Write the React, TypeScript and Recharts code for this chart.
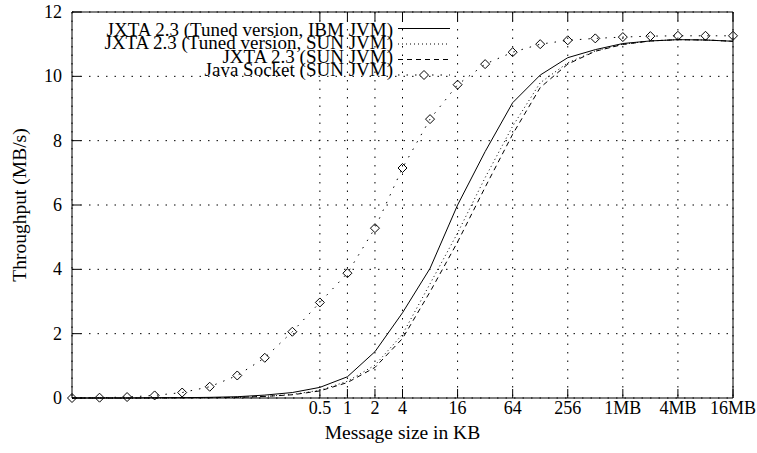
import { LineChart, Line, XAxis, YAxis, CartesianGrid, Legend } from "recharts";

// message sizes in bytes, one point per power of two
const sizes = [
  1, 2, 4, 8, 16, 32, 64, 128, 256, 512, 1024, 2048, 4096, 8192, 16384, 32768,
  65536, 131072, 262144, 524288, 1048576, 2097152, 4194304, 8388608, 16777216,
];

// throughput in MB/s
const tunedIbm = [
  0, 0, 0, 0.01, 0.01, 0.02, 0.04, 0.09, 0.17, 0.33, 0.66, 1.44, 2.65, 4.03,
  6.0, 7.66, 9.18, 10.04, 10.58, 10.83, 11.02, 11.1, 11.14, 11.13, 11.09,
];
const tunedSun = [
  0, 0, 0, 0, 0.01, 0.01, 0.02, 0.05, 0.11, 0.24, 0.52, 1.02, 1.98, 3.55, 5.13,
  6.85, 8.45, 9.8, 10.42, 10.79, 11.0, 11.1, 11.14, 11.13, 11.09,
];
const jxtaSun = [
  0, 0, 0, 0, 0.01, 0.01, 0.02, 0.05, 0.1, 0.22, 0.48, 0.95, 1.85, 3.3, 4.85,
  6.55, 8.2, 9.65, 10.38, 10.78, 10.99, 11.1, 11.14, 11.13, 11.09,
];
const javaSocket = [
  0, 0.01, 0.03, 0.08, 0.17, 0.35, 0.7, 1.25, 2.06, 2.97, 3.88, 5.28, 7.15,
  8.67, 9.74, 10.38, 10.75, 11.0, 11.12, 11.18, 11.22, 11.25, 11.26, 11.26,
  11.26,
];

const xTicks = [512, 1024, 2048, 4096, 16384, 65536, 262144, 1048576, 4194304, 16777216];
const xTickLabels = ["0.5", "1", "2", "4", "16", "64", "256", "1MB", "4MB", "16MB"];
const yTicks = [0, 2, 4, 6, 8, 10, 12];

const series = [
  { key: "tunedIbm", name: "JXTA 2.3 (Tuned version, IBM JVM)", dash: undefined, marker: false },
  { key: "tunedSun", name: "JXTA 2.3 (Tuned version, SUN JVM)", dash: "1 3", marker: false },
  { key: "jxtaSun", name: "JXTA 2.3 (SUN JVM)", dash: "5 4", marker: false },
  { key: "javaSocket", name: "Java Socket (SUN JVM)", dash: "1.5 7", marker: true },
];

const data = sizes.map((size, i) => ({
  size,
  tunedIbm: tunedIbm[i],
  tunedSun: tunedSun[i],
  jxtaSun: jxtaSun[i],
  javaSocket: javaSocket[i],
}));

const FONT = "'Liberation Serif', 'Times New Roman', serif";
const FS = 18;
const TITLE_FS = 19.5;
const TICK = 9;

function diamondPath(cx: number, cy: number, r: number) {
  return `M${cx},${cy - r}L${cx + r},${cy}L${cx},${cy + r}L${cx - r},${cy}Z`;
}

function Diamond(props: any) {
  const { cx, cy, index } = props;
  if (cx == null || cy == null) return <g key={index} />;
  return <path key={index} d={diamondPath(cx, cy, 4.5)} fill="none" stroke="#000" strokeWidth={1} />;
}

function BottomTick(props: any) {
  const { x, y, payload } = props;
  const label = xTickLabels[xTicks.indexOf(payload.value)];
  return (
    <g>
      <line x1={x} x2={x} y1={y} y2={y - TICK} stroke="#000" />
      <text x={x} y={y + 16} textAnchor="middle" fontFamily={FONT} fontSize={FS} fill="#000">
        {label}
      </text>
    </g>
  );
}

function TopTick(props: any) {
  const { x, y } = props;
  return <line x1={x} x2={x} y1={y} y2={y + TICK} stroke="#000" />;
}

function LeftTick(props: any) {
  const { x, y, payload } = props;
  return (
    <g>
      <line x1={x} x2={x + TICK} y1={y} y2={y} stroke="#000" />
      <text x={x - 10} y={y + 6} textAnchor="end" fontFamily={FONT} fontSize={FS} fill="#000">
        {payload.value}
      </text>
    </g>
  );
}

function RightTick(props: any) {
  const { x, y } = props;
  return <line x1={x - TICK} x2={x} y1={y} y2={y} stroke="#000" />;
}

function XTitle(props: any) {
  const { viewBox } = props;
  return (
    <text
      x={viewBox.x + viewBox.width / 2}
      y={viewBox.y + 41}
      textAnchor="middle"
      fontFamily={FONT}
      fontSize={TITLE_FS}
      fill="#000"
    >
      Message size in KB
    </text>
  );
}

function YTitle(props: any) {
  const { viewBox } = props;
  const cx = viewBox.x + 20;
  const cy = viewBox.y + viewBox.height / 2;
  return (
    <text
      x={cx}
      y={cy}
      dy={6}
      transform={`rotate(-90, ${cx}, ${cy})`}
      textAnchor="middle"
      fontFamily={FONT}
      fontSize={TITLE_FS}
      fill="#000"
    >
      Throughput (MB/s)
    </text>
  );
}

function KeyBox() {
  const textRight = 393;
  const x1 = 398;
  const x2 = 450;
  return (
    <svg width={460} height={90} style={{ display: "block" }}>
      {series.map((s, i) => {
        const baseline = 35.5 + i * 13.6;
        const cy = 28.5 + i * 15.5;
        return (
          <g key={s.key}>
            <text x={textRight} y={baseline} textAnchor="end" fontFamily={FONT} fontSize={19} fill="#000">
              {s.name}
            </text>
            <line x1={x1} x2={x2} y1={cy} y2={cy} stroke="#000" strokeDasharray={s.dash} />
            {s.marker && (
              <path d={diamondPath((x1 + x2) / 2, cy, 4.5)} fill="#fff" stroke="#000" />
            )}
          </g>
        );
      })}
    </svg>
  );
}

export default function App() {
  return (
    <div
      style={{
        position: "absolute",
        left: 0,
        top: 0,
        width: 757,
        height: 453,
        background: "#fff",
        fontFamily: FONT,
      }}
    >
      <LineChart
        width={757}
        height={453}
        data={data}
        margin={{ top: 0, right: 0, bottom: 0, left: 0 }}
        style={{ fontFamily: FONT }}
      >
        <CartesianGrid stroke="#000" strokeDasharray="1.5 7" strokeWidth={1} />
        <XAxis
          dataKey="size"
          type="number"
          scale="log"
          domain={[1, 16777216]}
          ticks={xTicks}
          interval={0}
          height={55}
          tickSize={0}
          tickMargin={0}
          tickLine={false}
          axisLine={{ stroke: "#000" }}
          tick={<BottomTick />}
          label={{ content: <XTitle /> }}
        />
        <XAxis
          xAxisId="top"
          dataKey="size"
          orientation="top"
          type="number"
          scale="log"
          domain={[1, 16777216]}
          ticks={xTicks}
          interval={0}
          height={12}
          tickSize={0}
          tickMargin={0}
          tickLine={false}
          axisLine={{ stroke: "#000" }}
          tick={<TopTick />}
        />
        <YAxis
          type="number"
          domain={[0, 12]}
          ticks={yTicks}
          interval={0}
          width={72}
          tickSize={0}
          tickMargin={0}
          tickLine={false}
          axisLine={{ stroke: "#000" }}
          tick={<LeftTick />}
          label={{ content: <YTitle /> }}
        />
        <YAxis
          yAxisId="right"
          orientation="right"
          type="number"
          domain={[0, 12]}
          ticks={yTicks}
          interval={0}
          width={24}
          tickSize={0}
          tickMargin={0}
          tickLine={false}
          axisLine={{ stroke: "#000" }}
          tick={<RightTick />}
        />
        <Legend
          layout="horizontal"
          verticalAlign="middle"
          align="center"
          content={<KeyBox />}
          wrapperStyle={{ left: 0, top: 0, width: 460, height: 90 }}
        />
        {series.map((s) => (
          <Line
            key={s.key}
            dataKey={s.key}
            name={s.name}
            type="linear"
            stroke="#000"
            strokeWidth={1}
            strokeDasharray={s.dash}
            dot={s.marker ? <Diamond /> : false}
            activeDot={false}
            isAnimationActive={false}
          />
        ))}
      </LineChart>
    </div>
  );
}
